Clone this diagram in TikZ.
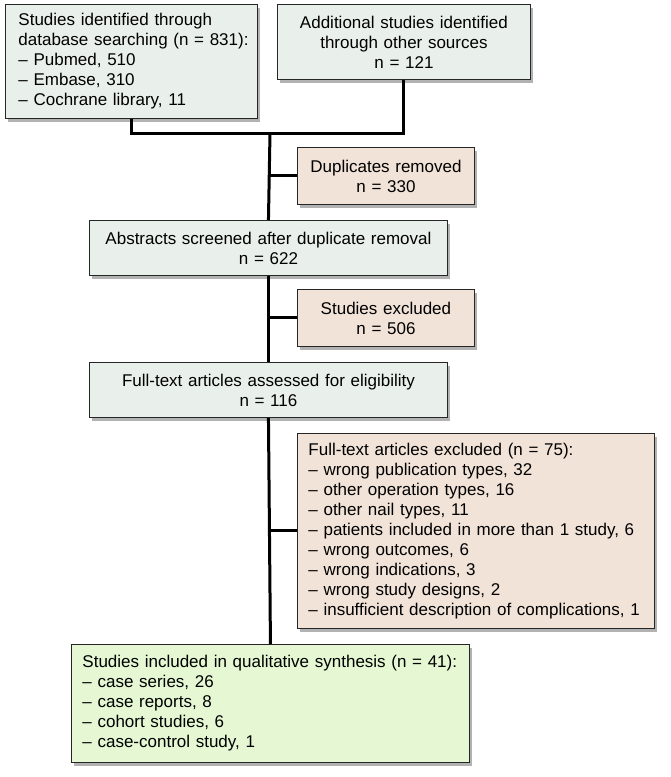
\documentclass[tikz,border=0pt]{standalone}
\usepackage{fontspec}
\setmainfont{Liberation Sans}
\usetikzlibrary{shadows}
\definecolor{boxA}{RGB}{233,240,235}
\definecolor{boxP}{RGB}{242,227,216}
\definecolor{boxG}{RGB}{229,248,211}
\newcommand\bline[1]{\mbox{#1}}
\begin{document}
\begin{tikzpicture}[x=1pt,y=-1pt,
  box/.style={draw=black!85, line width=0.9pt, inner xsep=11pt, inner ysep=0pt,
    anchor=north west, font=\fontsize{17}{20}\selectfont,
    drop shadow={shadow xshift=3pt,shadow yshift=-4pt,opacity=0.3,fill=black}},
  conn/.style={line width=3pt}]
\useasboundingbox (0,0) rectangle (670,777);
\node[box, fill=boxA, align=left, inner xsep=13pt, text width=226pt, minimum height=114pt] (b1) at (5,4)
  {\bline{Studies identified through}\\\bline{database searching (n = 831):}\\\bline{– Pubmed, 510}\\\bline{– Embase, 310}\\\bline{– Cochrane library, 11}};
\node[box, fill=boxA, align=center, text width=231pt, minimum height=75pt] (b2) at (277,4)
  {Additional studies identified\\through other sources\\n = 121};
\node[box, fill=boxP, align=center, text width=155pt, minimum height=57pt] (dup) at (297,147)
  {Duplicates removed\\n = 330};
\node[box, fill=boxA, align=center, text width=336pt, minimum height=55pt] (abs) at (89,220)
  {\bline{Abstracts screened after duplicate removal}\\n = 622};
\node[box, fill=boxP, align=center, text width=155pt, minimum height=57pt] (exc) at (297,289)
  {Studies excluded\\n = 506};
\node[box, fill=boxA, align=center, text width=336pt, minimum height=55pt] (ft) at (89,362)
  {\bline{Full-text articles assessed for eligibility}\\n = 116};
\node[box, fill=boxP, align=left, text width=335pt, minimum height=195pt] (ftex) at (297,433)
  {\bline{Full-text articles excluded (n = 75):}\\\bline{– wrong publication types, 32}\\\bline{– other operation types, 16}\\\bline{– other nail types, 11}\\\bline{– patients included in more than 1 study, 6}\\\bline{– wrong outcomes, 6}\\\bline{– wrong indications, 3}\\\bline{– wrong study designs, 2}\\\bline{– insufficient description of complications, 1}};
\node[box, fill=boxG, align=left, text width=376pt, minimum height=118pt] (inc) at (71,644)
  {\bline{Studies included in qualitative synthesis (n = 41):}\\\bline{– case series, 26}\\\bline{– case reports, 8}\\\bline{– cohort studies, 6}\\\bline{– case-control study, 1}};
\coordinate (ja) at (270,133);
\draw[conn] (b1.south) |- (b2.south |- ja) -- (b2.south);
\draw[conn] (ja) -- (abs.north);
\draw[conn] (abs.south) -- (ft.north);
\draw[conn] (ft.south) -- (inc.north);
\draw[conn] (dup.west -| ja) -- (dup.west);
\draw[conn] (exc.west -| ja) -- (exc.west);
\draw[conn] (ftex.west -| ja) -- (ftex.west);
\end{tikzpicture}
\end{document}
